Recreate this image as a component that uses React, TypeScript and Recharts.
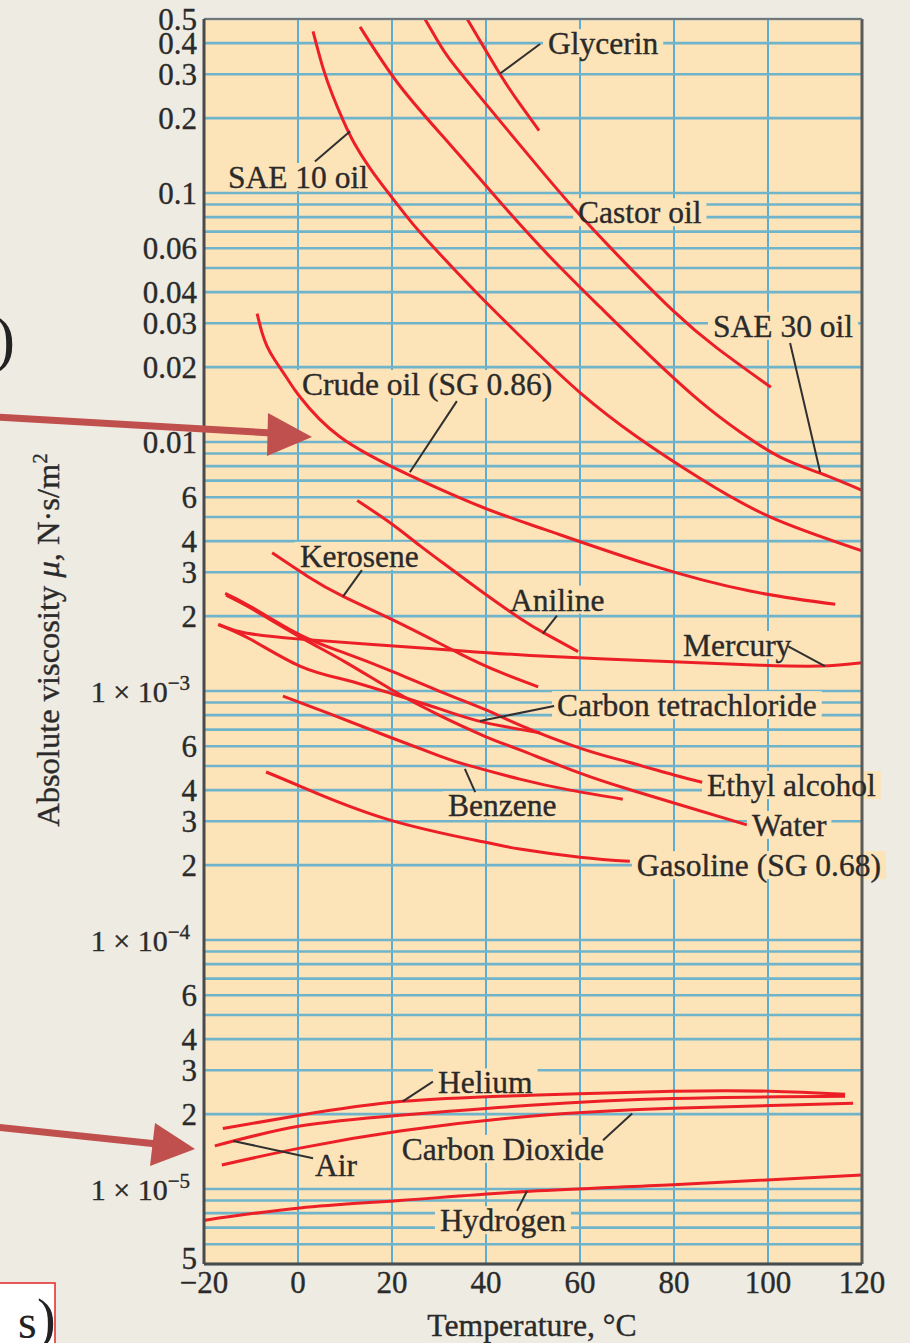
import React from 'react';
import {
  LineChart,
  Line,
  XAxis,
  YAxis,
  CartesianGrid,
  ReferenceDot,
  ReferenceLine,
} from 'recharts';

const FONT = '"Liberation Serif", "Times New Roman", Times, serif';
const PLOT_BG = '#fde3b8';
const PAGE_BG = '#eeebe2';
const CURVE = '#ec1f27';
const INK = '#2a2a2a';
const ARROW = '#c0504d';
const LABEL_SIZE = 31.5;
const TICK_SIZE = 31;

// ---------- axes ----------
const xTicks = [-20, 0, 20, 40, 60, 80, 100, 120];
const yGridValues = [
  5e-6, 6e-6, 7e-6, 8e-6, 9e-6,
  1e-5, 2e-5, 3e-5, 4e-5, 5e-5, 6e-5, 7e-5, 8e-5, 9e-5,
  1e-4, 2e-4, 3e-4, 4e-4, 5e-4, 6e-4, 7e-4, 8e-4, 9e-4,
  1e-3, 2e-3, 3e-3, 4e-3, 5e-3, 6e-3, 7e-3, 8e-3, 9e-3,
  0.01, 0.02, 0.03, 0.04, 0.05, 0.06, 0.07, 0.08, 0.09,
  0.1, 0.2, 0.3, 0.4, 0.5,
];
const yLabelValues = [
  0.5, 0.4, 0.3, 0.2, 0.1, 0.06, 0.04, 0.03, 0.02, 0.01,
  6e-3, 4e-3, 3e-3, 2e-3, 1e-3,
  6e-4, 4e-4, 3e-4, 2e-4, 1e-4,
  6e-5, 4e-5, 3e-5, 2e-5, 1e-5, 5e-6,
];
const yLabelTexts = [
  '0.5', '0.4', '0.3', '0.2', '0.1', '0.06', '0.04', '0.03', '0.02', '0.01',
  '6', '4', '3', '2', '1 \u00d7 10',
  '6', '4', '3', '2', '1 \u00d7 10',
  '6', '4', '3', '2', '1 \u00d7 10', '5',
];
const yLabelExponents = [
  '', '', '', '', '', '', '', '', '', '',
  '', '', '', '', '\u22123',
  '', '', '', '', '\u22124',
  '', '', '', '', '\u22125', '',
];

// ---------- series (temperature in degC, viscosity in N.s/m2) ----------
const glycerinT = [36, 43, 47.2, 51.3];
const glycerinMu = [0.5, 0.3, 0.228, 0.178];

const castorT = [27, 29.6, 32.3, 39.4, 50, 58.3, 67.9, 79.8, 89.1, 100.6];
const castorMu = [0.5, 0.412, 0.344, 0.235, 0.135, 0.0885, 0.0566, 0.0337, 0.0239, 0.0166];

const sae30T = [13.2, 21.7, 32.3, 43, 53.6, 64.3, 74.9, 85.5, 94, 102.6, 111.1, 120];
const sae30Mu = [0.465, 0.269, 0.157, 0.092, 0.0555, 0.0348, 0.0222, 0.0146, 0.011, 0.0087, 0.0075, 0.0064];

const sae10T = [3.2, 5.3, 7.4, 9.6, 12.1, 15.3, 18.9, 23.8, 28.7, 38.1, 49.4, 60, 72.1, 85.5, 100.4, 120];
const sae10Mu = [0.446, 0.319, 0.246, 0.196, 0.157, 0.126, 0.102, 0.0777, 0.061, 0.0396, 0.0243, 0.0158, 0.0105, 0.00715, 0.00501, 0.00366];

const crudeT = [-8.7, -7.7, -6.6, -4.9, -2.3, 0.4, 8.9, 23.8, 39.4, 52.6, 74.9, 96.2, 114.3];
const crudeMu = [0.0328, 0.0277, 0.0243, 0.0213, 0.018, 0.0152, 0.0105, 0.00735, 0.00546, 0.00445, 0.00321, 0.00252, 0.00223];

const keroseneT = [-5.5, 1.9, 9.6, 21.7, 34.5, 43, 51.1];
const keroseneMu = [0.00359, 0.0029, 0.0024, 0.00187, 0.00141, 0.00119, 0.00104];

const anilineT = [12.6, 19.6, 26, 32.3, 38.7, 47.2, 52.6, 59.6];
const anilineMu = [0.00582, 0.00474, 0.00383, 0.00312, 0.00254, 0.00196, 0.0017, 0.00144];

const mercuryT = [-16.8, -12.3, -0.2, 28.7, 49.4, 79.8, 98.3, 111.1, 120];
const mercuryMu = [0.00185, 0.00173, 0.00162, 0.00148, 0.00139, 0.00131, 0.00127, 0.00126, 0.0013];

const ccl4T = [-17, -10, 0.4, 10, 18.9, 30, 39.4, 51.5];
const ccl4Mu = [0.00185, 0.00161, 0.00126, 0.00111, 0.00099, 0.00085, 0.00075, 0.00068];

const ethanolT = [-15.5, -10, 0.4, 10, 20, 30, 40, 47.2, 60, 70, 80, 86];
const ethanolMu = [0.00247, 0.00218, 0.00168, 0.00142, 0.0012, 0.001, 0.00084, 0.00073, 0.00059, 0.00052, 0.00046, 0.00043];

const waterT = [-15.3, -10, 0.4, 10, 20, 30, 40, 47.2, 60, 70, 80, 95.5];
const waterMu = [0.00243, 0.00215, 0.00165, 0.00131, 0.00101, 0.0008, 0.000655, 0.00058, 0.000468, 0.000405, 0.000355, 0.00029];

const benzeneT = [-3.2, 6.8, 18.9, 30.2, 35.9, 47.2, 57.9, 69.1];
const benzeneMu = [0.000955, 0.000809, 0.00066, 0.000548, 0.000505, 0.000443, 0.0004, 0.000368];

const gasolineT = [-6.8, 0.4, 18.9, 39.4, 47.2, 60, 70.6];
const gasolineMu = [0.000473, 0.000415, 0.000306, 0.000248, 0.000232, 0.000215, 0.000207];

const heliumT = [-16, 0.4, 22.3, 49.4, 79.8, 100.4, 116.4];
const heliumMu = [1.75e-5, 1.98e-5, 2.25e-5, 2.38e-5, 2.47e-5, 2.47e-5, 2.4e-5];

const airT = [-17.7, 0.4, 21.7, 49.4, 79.8, 116.4];
const airMu = [1.49e-5, 1.79e-5, 1.98e-5, 2.17e-5, 2.31e-5, 2.36e-5];

const co2T = [-16.2, 0.4, 21.7, 49.4, 79.8, 118.1];
const co2Mu = [1.25e-5, 1.46e-5, 1.71e-5, 1.96e-5, 2.11e-5, 2.21e-5];

const hydrogenT = [-19.8, 0.4, 21.7, 49.4, 79.8, 120];
const hydrogenMu = [7.5e-6, 8.4e-6, 9.0e-6, 9.8e-6, 1.04e-5, 1.14e-5];

// ---------- curve labels ----------
const labelTexts = [
  'Glycerin', 'SAE 10 oil', 'Castor oil', 'SAE 30 oil', 'Crude oil (SG 0.86)',
  'Kerosene', 'Aniline', 'Mercury', 'Carbon tetrachloride', 'Ethyl alcohol',
  'Water', 'Benzene', 'Gasoline (SG 0.68)', 'Helium', 'Air', 'Carbon Dioxide', 'Hydrogen',
];
const labelT = [53.2, -14.9, 59.6, 88.3, 0.85, 0.4, 45.1, 81.9, 55.1, 87, 96.6, 31.9, 72.1, 29.8, 3.6, 22.1, 30.2];
const labelMu = [0.4, 0.116, 0.0837, 0.0293, 0.0171, 0.00349, 0.00233, 0.00153, 0.000878, 0.000419, 0.00029, 0.000348, 0.0002, 2.68e-5, 1.25e-5, 1.45e-5, 7.5e-6];

// leader lines (from label to curve)
const leaderFromT = [51.5, 3.6, 104.7, 33.8, 13.6, 55.1, 104.3, 54.5, 37.7, 28.7, 3.2, 64.9, 48.7];
const leaderFromMu = [0.397, 0.134, 0.025, 0.0146, 0.00306, 0.00201, 0.00151, 0.00087, 0.000393, 2.7e-5, 1.33e-5, 1.57e-5, 9.8e-6];
const leaderToT = [43, 11.1, 111.1, 23.8, 9.6, 52.1, 112.1, 38.7, 35.5, 22.3, -13.8, 71.1, 46.6];
const leaderToMu = [0.302, 0.177, 0.00756, 0.00756, 0.0024, 0.0017, 0.00126, 0.000758, 0.000487, 2.25e-5, 1.56e-5, 2.01e-5, 8.17e-6];

// ---------- helpers ----------
const zip = (T: number[], mu: number[]) => T.map((t, i) => ({ T: t, mu: mu[i] }));

const series = [
  zip(glycerinT, glycerinMu),
  zip(castorT, castorMu),
  zip(sae30T, sae30Mu),
  zip(sae10T, sae10Mu),
  zip(crudeT, crudeMu),
  zip(keroseneT, keroseneMu),
  zip(anilineT, anilineMu),
  zip(mercuryT, mercuryMu),
  zip(ccl4T, ccl4Mu),
  zip(ethanolT, ethanolMu),
  zip(waterT, waterMu),
  zip(benzeneT, benzeneMu),
  zip(gasolineT, gasolineMu),
  zip(heliumT, heliumMu),
  zip(airT, airMu),
  zip(co2T, co2Mu),
  zip(hydrogenT, hydrogenMu),
];

let measureCtx: CanvasRenderingContext2D | null = null;
function textWidth(s: string, size: number): number {
  if (!measureCtx) {
    const c = document.createElement('canvas');
    measureCtx = c.getContext('2d');
  }
  if (!measureCtx) return s.length * size * 0.45;
  measureCtx.font = `${size}px "Liberation Serif"`;
  return measureCtx.measureText(s).width;
}

function findLabelIndex(v: number): number {
  return yLabelValues.findIndex((l) => Math.abs(l - v) / l < 1e-6);
}

const textStyle = {
  fontFamily: FONT,
  fill: INK,
  stroke: INK,
  strokeWidth: 0.35,
};

const YTick = (props: any) => {
  const { x, y, payload } = props;
  const idx = findLabelIndex(payload.value);
  if (idx < 0) return <g />;
  const exp = yLabelExponents[idx];
  if (exp) {
    return (
      <text x={x - 14} y={y} dy="0.35em" textAnchor="end" fontSize={30} {...textStyle}>
        <tspan>{yLabelTexts[idx]}</tspan>
        <tspan dy={-12} fontSize={21}>{exp}</tspan>
      </text>
    );
  }
  const isBottom = payload.value < 5.5e-6;
  return (
    <text
      x={x - 7}
      y={isBottom ? y - 6 : y}
      dy="0.35em"
      textAnchor="end"
      fontSize={TICK_SIZE}
      {...textStyle}
    >
      {yLabelTexts[idx]}
    </text>
  );
};

const XTick = (props: any) => {
  const { x, y, payload } = props;
  const v = payload.value as number;
  const s = v < 0 ? `\u2212${Math.abs(v)}` : `${v}`;
  return (
    <text x={x} y={y + 29} textAnchor="middle" fontSize={TICK_SIZE} {...textStyle}>
      {s}
    </text>
  );
};

const makeBg = (text: string) => (props: any) => {
  const { cx, cy } = props;
  const w = textWidth(text, LABEL_SIZE);
  return <rect x={cx - 5} y={cy - 14} width={w + 10} height={28} fill={PLOT_BG} />;
};

const makeText = (text: string) => (props: any) => {
  const { cx, cy } = props;
  return (
    <text x={cx} y={cy} dy="0.35em" textAnchor="start" fontSize={LABEL_SIZE} {...textStyle}>
      {text}
    </text>
  );
};

export default function App() {
  return (
    <div
      style={{
        position: 'absolute',
        left: 0,
        top: 0,
        width: 910,
        height: 1343,
        background: PAGE_BG,
        overflow: 'hidden',
      }}
    >
      <LineChart width={910} height={1343} margin={{ top: 19, right: 48, bottom: 0, left: 0 }}>
        <CartesianGrid horizontal={false} stroke="#5aaed4" strokeWidth={2} fill={PLOT_BG} fillOpacity={1} />
        <CartesianGrid vertical={false} stroke="#6fb4ca" strokeWidth={2.6} />
        <XAxis
          dataKey="T"
          type="number"
          domain={[-20, 120]}
          ticks={xTicks}
          interval={0}
          allowDataOverflow
          height={79}
          tickSize={0}
          tickMargin={0}
          tickLine={false}
          axisLine={{ stroke: '#4a4a4a', strokeWidth: 3 }}
          tick={<XTick />}
        />
        <YAxis
          type="number"
          scale="log"
          domain={[5e-6, 0.5]}
          ticks={yGridValues}
          interval={0}
          allowDataOverflow
          width={204}
          tickSize={0}
          tickMargin={0}
          tickLine={false}
          axisLine={{ stroke: '#4a4a4a', strokeWidth: 3 }}
          tick={<YTick />}
        />
        {labelTexts.map((t, i) => (
          <ReferenceDot
            key={`bg-${i}`}
            x={labelT[i]}
            y={labelMu[i]}
            r={0}
            shape={makeBg(t)}
            zIndex={50}
          />
        ))}
        {series.map((d, i) => (
          <Line
            key={`s-${i}`}
            data={d}
            dataKey="mu"
            type="natural"
            stroke={CURVE}
            strokeWidth={3}
            dot={false}
            activeDot={false}
            isAnimationActive={false}
          />
        ))}
        {leaderFromT.map((t, i) => (
          <ReferenceLine
            key={`ld-${i}`}
            segment={[
              { x: t, y: leaderFromMu[i] },
              { x: leaderToT[i], y: leaderToMu[i] },
            ]}
            stroke="#303030"
            strokeWidth={2}
            zIndex={2050}
          />
        ))}
        {labelTexts.map((t, i) => (
          <ReferenceDot
            key={`tx-${i}`}
            x={labelT[i]}
            y={labelMu[i]}
            r={0}
            shape={makeText(t)}
            zIndex={2100}
          />
        ))}
        <ReferenceLine x={120} stroke="#5a5a5a" strokeWidth={3} />
        <ReferenceLine y={0.5} stroke="#777" strokeWidth={2} />
      </LineChart>
      <svg
        width={910}
        height={1343}
        style={{ position: 'absolute', left: 0, top: 0, pointerEvents: 'none' }}
      >
        <text
          x={59}
          y={640}
          transform="rotate(-90 59 640)"
          textAnchor="middle"
          fontSize={32.5}
          {...textStyle}
        >
          Absolute viscosity <tspan fontStyle="italic">{'\u03bc'}</tspan>, N{'\u00b7'}s/m
          <tspan dy={-12} fontSize={21}>2</tspan>
        </text>
        <text x={532} y={1336} textAnchor="middle" fontSize={31.7} {...textStyle}>
          Temperature, {'\u00b0'}C
        </text>
        <text x={15} y={360} textAnchor="end" fontFamily={FONT} fontSize={64} fill="#222">
          )
        </text>
        <line x1={-5} y1={417} x2={272} y2={433} stroke={ARROW} strokeWidth={7} />
        <polygon points="312,437 268,413 267,456" fill={ARROW} />
        <line x1={-5} y1={1127} x2={157} y2={1144} stroke={ARROW} strokeWidth={7} />
        <polygon points="195,1149 155,1123 150,1166" fill={ARROW} />
        <rect x={-2} y={1283} width={57} height={70} fill="#ffffff" stroke="#e32626" strokeWidth={1.5} />
        <text x={18} y={1338} fontFamily={FONT} fontSize={48} fill="#222">
          s
        </text>
        <text x={37} y={1338} fontFamily={FONT} fontSize={56} fill="#222">
          )
        </text>
      </svg>
    </div>
  );
}
